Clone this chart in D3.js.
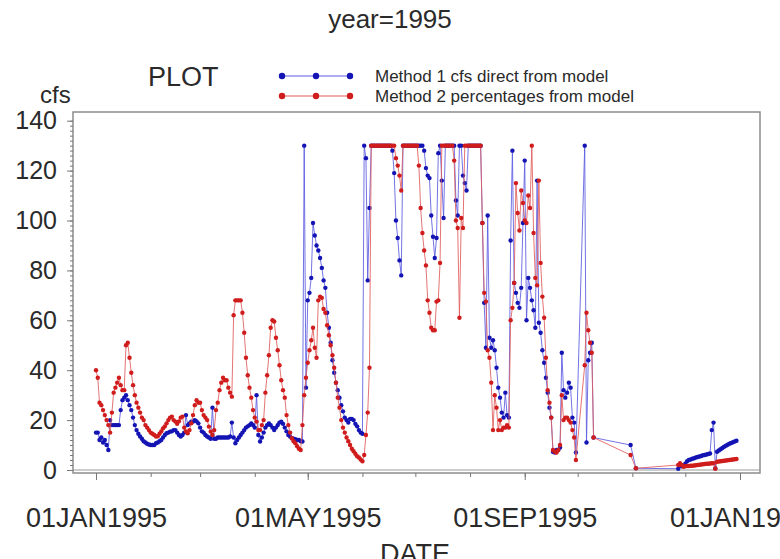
<!DOCTYPE html>
<html><head><meta charset="utf-8">
<script src="https://cdn.jsdelivr.net/npm/d3@7"></script>
<style>
body{margin:0;background:#fff}
svg{display:block}
text{font-family:"Liberation Sans",Arial,Helvetica,sans-serif;fill:#2a2a2a}
</style>
</head><body>
<svg id="c" width="780" height="559"></svg>
<script>
// ---- data: daily values for 1995, index 0 = 01JAN1995 ----
const method1 = [
15,15,12,13,11,12,10,8,20,18,
18,18,18,18,24,28,29,30,28,26,
24,21,18,16,14.5,13.4,12.5,11.5,11,10.5,
10.2,10,10,10,10.7,11,11.5,12,13,14,
14.7,15,15.4,15.5,16,16,15,14,13.4,14,
15,22,18,18.7,19.4,19.4,20,19.5,18.7,17,
15.5,15,14,13.4,13,12.5,25,12.5,12.5,13,
13,13,13,13,13,13,13.4,19,13,10.7,
12,13,14,15,16,17,17.5,18,18.7,18,
17,30,14,11.4,13,15,17,18,18.7,18,
17,16,17,18,19,19.4,18.5,17,15.5,14,
13.4,12.7,12.5,12.3,12,12,11.5,11.4,130,33,
68,71,77,99,94,90,88,85,81,76,
73,63,57,51,44,39,35,32,29,26,
23.5,21,20,19,20.5,20.5,20,18.5,17.5,16,
15,14.5,130,125,76,105,130,130,130,130,
130,130,130,130,130,130,130,130,128,119,
100,93,84,78,130,130,130,130,130,130,
130,130,130,130,130,130,128,121,118,117,
102,93.5,85,93,127,130,116,101,130,130,
130,130,130,130,108,102,130,130,118,115,
112,130,130,130,130,130,130,130,130,99,
67,49,102,53,49,52,48,41,33,29,
23,21,31,22,21,92,128,75,71,67,
65,73,99,124,60,77,73,68,64,57,
116,59,55,48,43,37,31,25,21,7.3,
7,8,8,9,47,32,29,31,35,33,
21,19,7,null,null,null,null,130,11,44,
47,51,13,null,null,null,null,null,null,null,
null,null,null,null,null,null,null,null,null,null,
null,null,null,10,null,null,0.7,null,null,null,
null,null,null,null,null,null,null,null,null,null,
null,null,null,null,null,null,null,null,null,null,
0.5,null,1.5,null,2.5,3.5,4,4.2,4.5,4.7,
5,5.2,5.4,5.6,5.9,6,6.2,6.4,6.6,16,
19,0.7,7.3,7.8,8.3,8.8,9.3,9.7,10.1,10.5,
10.8,11.1,11.4,11.7,null
];
const method2 = [
40,37,27,26,24,22,20,18,15,23,
31,33,35,37,34,32,32,50,51,45,
39,34,30,27,25,23,21,20,18,17,
16,15,14.5,14,13.4,13.5,14.5,15.5,16.7,17.5,
18.7,20,21,21.4,20,19.4,18.5,19.5,21,21.4,
17,15.5,14.7,16,18.7,22,26,28,27,27,
24,22,21,20,17.4,15.4,14,16,24,27,
32,35,37,36,36,33,31,29.4,62,68,
68,68,68,63,55,45,38,33,29,24,
21,19.4,16,16,18,20,31,38,46,57,
60,59.5,53,48,42,36,32,29,22,18,
15,12.7,11.5,10.7,9.5,8.5,8,18,30,37,
43,48,52,57,49,45,68,69.5,69,64.5,
63,58,54,50,46,41,35,29,25,20,
17,15,13,11.5,10,8.5,7.5,6.5,5.5,5,
4.2,3.5,6,14,23,41,130,130,130,130,
130,130,130,130,130,130,130,130,130,130,
125,122,118,112,130,130,130,130,130,130,
130,130,130,122,105,95,88,82,68,63,
57,56,56,67.5,68,83,130,130,130,130,
130,130,130,124,100,97,61,101,97,130,
130,130,130,130,130,130,130,130,130,99,
71,67.5,48,45,35,16,30,25,16,20,
16,17,17,18,17,60,65,75,115,103,
96,112,107,100,99,110,105,130,95,77,
74,116,83,69.5,61,45,32,27,21,8,
7.3,7,8,10,30,20,21,21,20,19,
16,13,4,null,null,null,null,42,63,56,
51,47,13,null,null,null,null,null,null,null,
null,null,null,null,null,null,null,null,null,null,
null,null,null,6,null,null,0.7,null,null,null,
null,null,null,null,null,null,null,null,null,null,
null,null,null,null,null,null,null,null,null,null,
2,2.7,2,1.3,1.5,1.6,1.6,1.7,1.7,1.8,
1.9,2,2.1,2.2,2.3,2.4,2.5,2.5,2.6,2.7,
2.7,0.5,3.3,3.4,3.5,3.6,3.7,3.8,3.9,4,
4.1,4.2,4.3,4.4,null
];
const yTickValues = [0,20,40,60,80,100,120,140];
const xTickDates = ["1995-01-01","1995-05-01","1995-09-01","1996-01-01"];
const xTickLabels = ["01JAN1995","01MAY1995","01SEP1995","01JAN1996"];
const seriesNames = ["Method 1 cfs direct from model","Method 2 percentages from model"];
const seriesColors = ["#1414b4","#d01c1c"];
const lineColors = ["#5a5ae0","#e05a5a"];

// ---- layout ----
const svg = d3.select("#c");
const frame = {l:73, t:112, r:760, b:473};
const x = d3.scaleTime().domain([new Date(1995,0,1), new Date(1996,0,1)]).range([96,740]);
const y = d3.scaleLinear().domain([0,140]).range([470,120.7]);

// frame
svg.append("rect").attr("x",frame.l).attr("y",frame.t)
  .attr("width",frame.r-frame.l).attr("height",frame.b-frame.t)
  .attr("fill","none").attr("stroke","#8c8c8c").attr("stroke-width",1.5);
// reference line at 0
svg.append("line").attr("x1",frame.l).attr("x2",frame.r)
  .attr("y1",y(0)).attr("y2",y(0)).attr("stroke","#9a9a9a").attr("stroke-width",1);

// y axis
const yAxisG = svg.append("g").attr("transform",`translate(${frame.l},0)`)
  .call(d3.axisLeft(y).tickValues(d3.range(0,141,2)).tickSize(3).tickFormat(""));
yAxisG.select(".domain").remove();
yAxisG.selectAll("line").attr("stroke","#777");
const yMajor = svg.append("g").attr("transform",`translate(${frame.l},0)`)
  .call(d3.axisLeft(y).tickValues(yTickValues).tickSize(6).tickPadding(10));
yMajor.select(".domain").remove();
yMajor.selectAll("line").attr("stroke","#777");
yMajor.selectAll("text").attr("font-size",25).attr("fill","#2a2a2a")
  .attr("font-family","Liberation Sans, Arial, sans-serif");

// x axis
const parse = d3.timeParse("%Y-%m-%d");
const months = d3.timeMonth.range(new Date(1995,0,1), new Date(1996,0,2));
const xMinor = svg.append("g").attr("transform",`translate(0,${frame.b})`)
  .call(d3.axisBottom(x).tickValues(months).tickSize(4).tickFormat(""));
xMinor.select(".domain").remove();
xMinor.selectAll("line").attr("stroke","#777");
const xMajor = svg.append("g").attr("transform",`translate(0,${frame.b})`)
  .call(d3.axisBottom(x).tickValues(xTickDates.map(parse)).tickSize(7).tickPadding(28)
    .tickFormat((d,i)=>xTickLabels[i]));
xMajor.select(".domain").remove();
xMajor.selectAll("line").attr("stroke","#777");
xMajor.selectAll("text").attr("font-size",27).attr("fill","#2a2a2a")
  .attr("font-family","Liberation Sans, Arial, sans-serif");

// series
const start = new Date(1995,0,1);
[method1, method2].forEach((vals, si) => {
  const pts = vals.map((v,i)=>({d:d3.timeDay.offset(start,i), v})).filter(p=>p.v!=null);
  const line = d3.line().x(p=>x(p.d)).y(p=>y(p.v));
  svg.append("path").datum(pts).attr("d",line).attr("fill","none")
    .attr("stroke",lineColors[si]).attr("stroke-width",1).attr("stroke-opacity",0.85);
  svg.append("g").selectAll("circle").data(pts).join("circle")
    .attr("cx",p=>x(p.d)).attr("cy",p=>y(p.v)).attr("r",2.2)
    .attr("fill",seriesColors[si]);
});

// titles
svg.append("text").attr("x",390).attr("y",28).attr("text-anchor","middle")
  .attr("font-size",26).text("year=1995");
svg.append("text").attr("x",148).attr("y",86).attr("font-size",27).text("PLOT");
svg.append("text").attr("x",40).attr("y",103).attr("font-size",24).text("cfs");
svg.append("text").attr("x",415).attr("y",563).attr("text-anchor","middle")
  .attr("font-size",27).text("DATE");

// legend
const legX = [282,316,350];
seriesNames.forEach((name, si) => {
  const ly = 76 + si*20;
  svg.append("line").attr("x1",legX[0]).attr("x2",legX[2]).attr("y1",ly).attr("y2",ly)
    .attr("stroke",lineColors[si]).attr("stroke-width",1.2);
  svg.append("g").selectAll("circle").data(legX).join("circle")
    .attr("cx",d=>d).attr("cy",ly).attr("r",3.2).attr("fill",seriesColors[si]);
  svg.append("text").attr("x",375).attr("y",ly+6).attr("font-size",17).text(name);
});
</script>
</body></html>
